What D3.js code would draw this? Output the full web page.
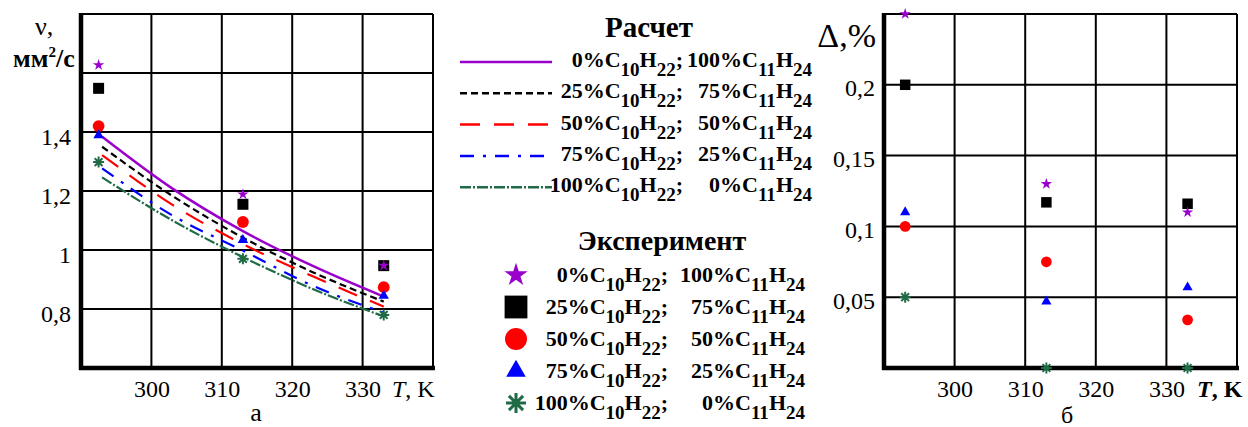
<!DOCTYPE html>
<html>
<head>
<meta charset="utf-8">
<script src="https://cdn.jsdelivr.net/npm/d3@7"></script>
<style>
  body { margin: 0; background: #fff; }
  svg { display: block; }
</style>
</head>
<body>
<svg id="chart" width="1248" height="427"></svg>
<script>
// temperatures, K
var calcT = [293, 303, 313, 323, 333];
var expTLeft = [292.5, 313, 333];
var expTRight = [293, 313, 333];

// mixture composition, %
var pctC10 = [0, 25, 50, 75, 100];
var pctC11 = [100, 75, 50, 25, 0];

// viscosity, calculated, mm2/s
var nuCalc0 = [1.384, 1.208, 1.064, 0.945, 0.842];
var nuCalc25 = [1.350, 1.183, 1.042, 0.924, 0.825];
var nuCalc50 = [1.322, 1.153, 1.020, 0.910, 0.808];
var nuCalc75 = [1.277, 1.117, 0.998, 0.878, 0.788];
var nuCalc100 = [1.246, 1.100, 0.976, 0.867, 0.775];

// viscosity, experiment, mm2/s
var nuExp0 = [1.627, 1.189, 0.947];
var nuExp25 = [1.548, 1.155, 0.947];
var nuExp50 = [1.420, 1.095, 0.874];
var nuExp75 = [1.389, 1.034, 0.845];
var nuExp100 = [1.298, 0.970, 0.780];

// deviation, %
var delta0 = [0.250, 0.130, 0.110];
var delta25 = [0.200, 0.117, 0.116];
var delta50 = [0.100, 0.075, 0.034];
var delta75 = [0.110, 0.047, 0.057];
var delta100 = [0.050, 0, 0];

var xGrid = [300, 310, 320, 330, 340];
var xTicks = [300, 310, 320, 330];
var nuGrid = [0.8, 1, 1.2, 1.4, 1.6, 1.8];
var nuTicks = [0.8, 1, 1.2, 1.4];
var deltaGrid = [0.05, 0.1, 0.15, 0.2, 0.25];
var deltaTicks = [0.05, 0.1, 0.15, 0.2];

var series = [
    {color: '#9900cc', dash: null, symbol: 'star', calc: nuCalc0, exp: nuExp0, delta: delta0},
    {color: '#000000', dash: '7,4', symbol: 'square', calc: nuCalc25, exp: nuExp25, delta: delta25},
    {color: '#ff0000', dash: '20,14', symbol: 'circle', calc: nuCalc50, exp: nuExp50, delta: delta50},
    {color: '#0000ff', dash: '14,9,3,9', symbol: 'triangle', calc: nuCalc75, exp: nuExp75, delta: delta75},
    {color: '#1f6b45', dash: '11,2,2,2', symbol: 'asterisk', calc: nuCalc100, exp: nuExp100, delta: delta100}
];
var drawOrder = [1, 2, 3, 4, 0];

var SERIF = "'Liberation Serif'";
var svg = d3.select('#chart');
var comma = function (d) { return String(d).replace('.', ','); };

var xL = d3.scaleLinear().domain([290, 340]).range([81, 433]);
var yL = d3.scaleLinear().domain([0.6, 1.8]).range([368, 14]);
var xR = d3.scaleLinear().domain([290, 340]).range([884, 1237]);
var yR = d3.scaleLinear().domain([0, 0.25]).range([368, 14]);

function symbolPath(type, size) {
    if (type === 'asterisk') {
        var r = size, q = size * 0.707;
        return 'M' + (-r) + ',0L' + r + ',0M0,' + (-r) + 'L0,' + r +
            'M' + (-q) + ',' + (-q) + 'L' + q + ',' + q +
            'M' + (-q) + ',' + q + 'L' + q + ',' + (-q);
    }
    var types = {star: d3.symbolStar, square: d3.symbolSquare, circle: d3.symbolCircle, triangle: d3.symbolTriangle};
    return d3.symbol().type(types[type]).size(size)();
}

var sizesSmall = {star: 40, square: 121, circle: 110, triangle: 48, asterisk: 5.5};
var sizesRight = {star: 40, square: 110, circle: 90, triangle: 45, asterisk: 5.5};
var sizesLegend = {star: 170, square: 520, circle: 380, triangle: 165, asterisk: 10};

function marker(g, type, color, size, x, y, sw) {
    var p = g.append('path')
        .attr('d', symbolPath(type, size))
        .attr('transform', 'translate(' + x + ',' + y + ')');
    if (type === 'asterisk') {
        p.attr('fill', 'none').attr('stroke', color).attr('stroke-width', sw);
    } else {
        p.attr('fill', color);
    }
}

function panel(x, y, yGrid, yTicks, yDy, yPad) {
    var g = svg.append('g');
    var x0 = x.range()[0], x1 = x.range()[1], y0 = y.range()[1], y1 = y.range()[0];

    g.selectAll('.vg').data(xGrid).enter().append('line')
        .attr('x1', function (d) { return x(d); }).attr('x2', function (d) { return x(d); })
        .attr('y1', y0).attr('y2', y1)
        .attr('stroke', '#000').attr('stroke-width', 2);
    g.selectAll('.hg').data(yGrid).enter().append('line')
        .attr('y1', function (d) { return y(d); }).attr('y2', function (d) { return y(d); })
        .attr('x1', x0).attr('x2', x1)
        .attr('stroke', '#000').attr('stroke-width', 2);

    var ax = g.append('g').attr('transform', 'translate(0,' + y1 + ')')
        .call(d3.axisBottom(x).tickValues(xTicks).tickSize(0).tickPadding(11.5));
    var ay = g.append('g').attr('transform', 'translate(' + x0 + ',0)')
        .call(d3.axisLeft(y).tickValues(yTicks).tickFormat(comma).tickSize(0).tickPadding(yPad));
    [ax, ay].forEach(function (a) {
        a.attr('font-size', 24);
        a.select('.domain').remove();
        a.selectAll('text').attr('fill', '#000');
    });
    ay.selectAll('text').attr('dy', yDy);

    g.append('line').attr('x1', x0).attr('x2', x0).attr('y1', y0 - 1).attr('y2', y1 + 2)
        .attr('stroke', '#000').attr('stroke-width', 4.5);
    g.append('line').attr('x1', x0 - 2).attr('x2', x1 + 2).attr('y1', y1).attr('y2', y1)
        .attr('stroke', '#000').attr('stroke-width', 4.5);
    return g;
}

// a) viscosity
var gL = panel(xL, yL, nuGrid, nuTicks, '0.54em', 10);

var line = d3.line()
    .x(function (d) { return xL(d[0]); })
    .y(function (d) { return yL(d[1]); })
    .curve(d3.curveMonotoneX);

series.slice().reverse().forEach(function (s) {
    gL.append('path')
        .attr('d', line(calcT.map(function (t, i) { return [t, s.calc[i]]; })))
        .attr('fill', 'none')
        .attr('stroke', s.color)
        .attr('stroke-width', s.dash ? 2.2 : 2.5)
        .attr('stroke-dasharray', s.dash);
});

drawOrder.forEach(function (k) {
    var s = series[k];
    expTLeft.forEach(function (t, i) {
        marker(gL, s.symbol, s.color, sizesSmall[s.symbol], xL(t), yL(s.exp[i]), 2);
    });
});

var tl = svg.append('text').attr('x', 392).attr('y', 396.5).style('font-size', '24px');
tl.append('tspan').text('T').style('font-style', 'italic');
tl.append('tspan').text(', K');

svg.append('text').attr('x', 35).attr('y', 35).style('font-size', '26px').text('ν,');
var unit = svg.append('text').attr('x', 13).attr('y', 66.5).style('font-size', '26px').style('font-weight', 'bold');
unit.append('tspan').text('мм');
unit.append('tspan').text('2').attr('dy', -10).style('font-size', '15px');
unit.append('tspan').text('/с').attr('dy', 10);

svg.append('text').attr('x', 256).attr('y', 421).attr('text-anchor', 'middle').style('font-size', '26px').text('а');

// b) deviation
var gR = panel(xR, yR, deltaGrid, deltaTicks, '0.46em', 9);

drawOrder.forEach(function (k) {
    var s = series[k];
    expTRight.forEach(function (t, i) {
        marker(gR, s.symbol, s.color, sizesRight[s.symbol], xR(t), yR(s.delta[i]), 2);
    });
});

var tr = svg.append('text').attr('x', 1197).attr('y', 396.5).style('font-size', '24px').style('font-weight', 'bold');
tr.append('tspan').text('T').style('font-style', 'italic');
tr.append('tspan').text(', K');

svg.append('text').attr('x', 876).attr('y', 47).attr('text-anchor', 'end').style('font-size', '34px').text('Δ,%');
svg.append('text').attr('x', 1067).attr('y', 423).attr('text-anchor', 'middle').style('font-size', '24px').text('б');

// legend
function formula(g, parts, xEnd, y) {
    var t = g.append('text')
        .attr('x', xEnd).attr('y', y)
        .attr('text-anchor', 'end')
        .style('font-weight', 'bold').style('font-size', '22px');
    parts.forEach(function (p, i) {
        var sub = i % 2 === 1;
        t.append('tspan').text(p)
            .attr('dy', sub ? 9 : (i > 0 ? -9 : 0))
            .style('font-size', sub ? '19px' : null);
    });
}

function legendRow(g, i, xa, xb, y) {
    formula(g, [pctC10[i] + '%C', '10', 'H', '22', ';'], xa, y);
    formula(g, [pctC11[i] + '%C', '11', 'H', '24'], xb, y);
}

var leg = svg.append('g');
leg.append('text').attr('x', 649).attr('y', 36.5).attr('text-anchor', 'middle')
    .style('font-size', '29px').style('font-weight', 'bold').text('Расчет');

series.forEach(function (s, i) {
    var y = 62 + i * 31.3;
    leg.append('line')
        .attr('x1', 460).attr('x2', 552).attr('y1', y).attr('y2', y)
        .attr('stroke', s.color).attr('stroke-width', 2.5)
        .attr('stroke-dasharray', s.dash);
    legendRow(leg, i, 683, 812, y + 5);
});

leg.append('text').attr('x', 662).attr('y', 249.5).attr('text-anchor', 'middle')
    .style('font-size', '28px').style('font-weight', 'bold').text('Эксперимент');

series.forEach(function (s, i) {
    var y = 275 + i * 32;
    marker(leg, s.symbol, s.color, sizesLegend[s.symbol], 516, y, 3);
    legendRow(leg, i, 668, 805, y + 7);
});

svg.selectAll('text').style('font-family', SERIF);
</script>
</body>
</html>
